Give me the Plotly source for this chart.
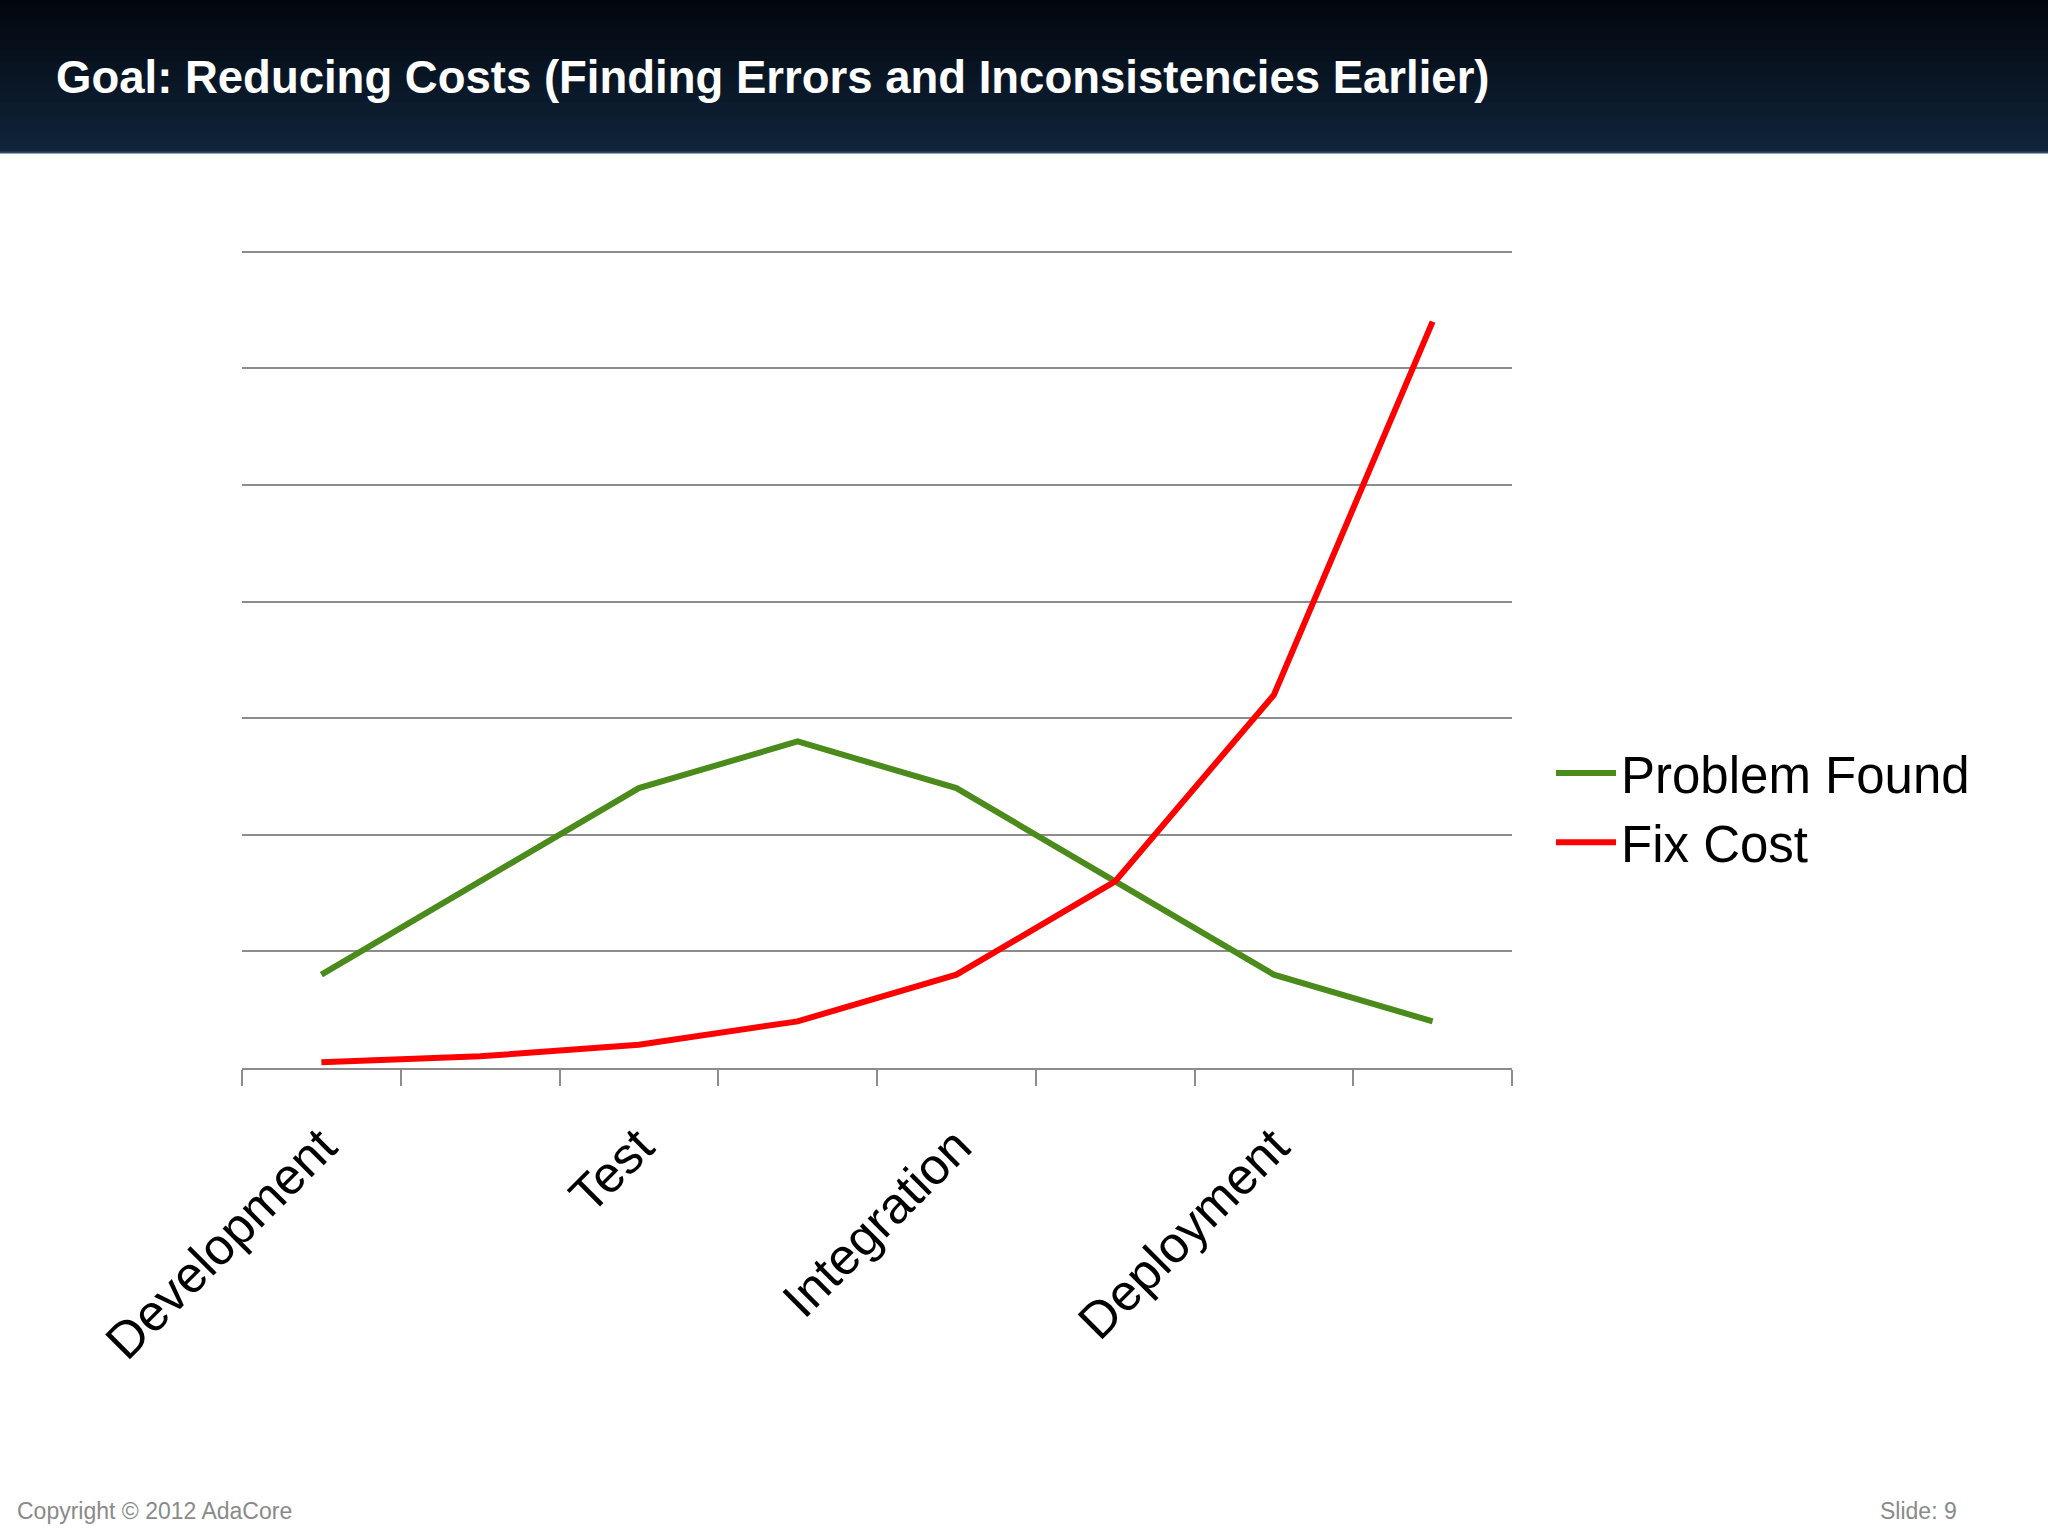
import plotly.graph_objects as go

# ---- data ----
stages = ["Development", "", "Test", "", "Integration", "", "Deployment", ""]
problem_found = [4, 8, 12, 14, 12, 8, 4, 2]
fix_cost = [0.25, 0.5, 1, 2, 4, 8, 16, 32]
series_names = ["Problem Found", "Fix Cost"]
title_text = "Goal: Reducing Costs (Finding Errors and Inconsistencies Earlier)"
footer_left = "Copyright © 2012 AdaCore"
footer_right = "Slide: 9"

W, H = 2048, 1536
Y_MAX = 35
Y_TOP = 35.2                       # a little headroom so the top gridline is drawn
PL, PR, PB = 242, 1512, 1068
PT = PB - (PB - 252) * Y_TOP / Y_MAX
PW, PH = PR - PL, PB - PT


def px_x(x):
    return (x - PL) / PW


def px_y(y):
    return (PB - y) / PH


x_idx = list(range(len(stages)))

fig = go.Figure()
fig.add_trace(go.Scatter(x=x_idx, y=problem_found, mode="lines", name=series_names[0],
                         line=dict(color="#4a8b1c", width=6)))
fig.add_trace(go.Scatter(x=x_idx, y=fix_cost, mode="lines", name=series_names[1],
                         line=dict(color="#ff0000", width=6)))

# header gradient bar
shapes = []
n = 30
top_c = (2, 7, 13)
bot_c = (16, 36, 59)
hh = 153
for i in range(n):
    t = i / (n - 1)
    c = tuple(int(round(top_c[k] + (bot_c[k] - top_c[k]) * t)) for k in range(3))
    y_top = hh * i / n
    y_bot = min(hh, hh * (i + 1) / n + 3)
    shapes.append(dict(type="rect", xref="paper", yref="paper",
                       x0=px_x(-10), x1=px_x(W + 10),
                       y0=px_y(y_bot), y1=px_y(y_top - (10 if i == 0 else 0)),
                       fillcolor="rgb(%d,%d,%d)" % c, line=dict(width=0), layer="below"))
shapes.append(dict(type="line", xref="paper", yref="paper",
                   x0=px_x(-10), x1=px_x(W + 10), y0=px_y(hh), y1=px_y(hh),
                   line=dict(color="#2f4a66", width=2)))

fig.update_layout(
    width=W, height=H,
    margin=dict(l=PL, r=W - PR, t=PT, b=H - PB, pad=0),
    paper_bgcolor="white", plot_bgcolor="white",
    font=dict(family="Liberation Sans, Arial, sans-serif", color="black"),
    showlegend=True,
    legend=dict(x=px_x(1551), xanchor="left", y=px_y(808), yanchor="middle",
                font=dict(size=51, color="black"),
                itemwidth=60, tracegroupgap=0, bgcolor="rgba(0,0,0,0)"),
    shapes=shapes,
    annotations=[
        dict(text="<b>" + title_text + "</b>", xref="paper", yref="paper",
             x=px_x(54), y=px_y(78), xanchor="left", yanchor="middle",
             showarrow=False, font=dict(size=45.5, color="white")),
        dict(text=footer_left, xref="paper", yref="paper",
             x=px_x(15), y=px_y(1511), xanchor="left", yanchor="middle",
             showarrow=False, font=dict(size=23, color="#8a8a8a")),
        dict(text=footer_right, xref="paper", yref="paper",
             x=px_x(1959), y=px_y(1511), xanchor="right", yanchor="middle",
             showarrow=False, font=dict(size=23, color="#8a8a8a")),
    ],
)

fig.update_xaxes(
    type="category", tickvals=x_idx, ticktext=stages, tickson="boundaries",
    range=[-0.5, len(stages) - 0.5],
    showline=True, linecolor="#8c8c8c", linewidth=2,
    ticks="outside", ticklen=16, tickwidth=2, tickcolor="#8c8c8c",
    ticklabelstandoff=26,
    tickangle=-45, tickfont=dict(size=51, color="black"),
    showgrid=False, zeroline=False,
)
fig.update_yaxes(
    range=[0, Y_TOP], dtick=5, tick0=0, showticklabels=False,
    showgrid=True, gridcolor="#8c8c8c", gridwidth=1.5,
    zeroline=False, showline=False, ticks="",
)

fig.write_html("out.html", config={"displayModeBar": False},
               post_script="document.body.style.margin='0';")
